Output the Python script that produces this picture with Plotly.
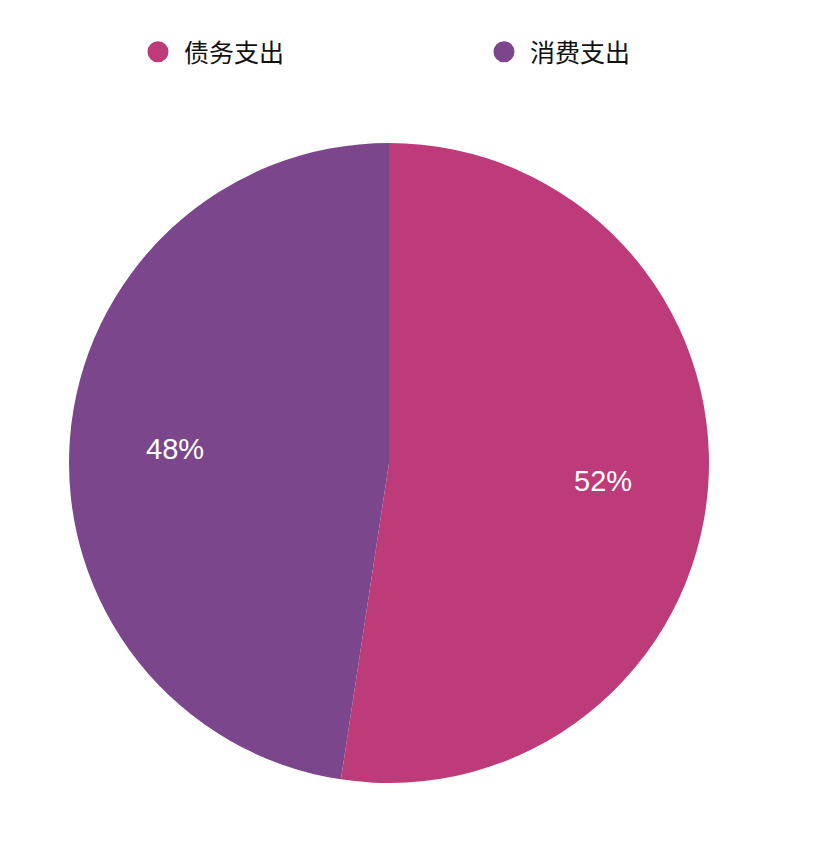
import numpy as np
import plotly.graph_objects as go

labels = ["债务支出", "消费支出"]
values = [52.4, 47.6]
colors = ["#BC3B78", "#7B468B"]

# pie geometry in pixels (figure coordinates)
cx, cy, r = 381, 455, 320
W, H = 820, 846

fig = go.Figure()

fig.add_trace(go.Pie(
    labels=labels,
    values=values,
    sort=False,
    direction="clockwise",
    rotation=0,
    marker=dict(colors=colors),
    textinfo="none",
    showlegend=False,
    hoverinfo="label+percent",
    domain=dict(x=[(cx - r) / W, (cx + r) / W], y=[1 - (cy + r) / H, 1 - (cy - r) / H]),
))

# percent labels at 2/3 of the radius, on the mid-angle of each slice
frac = np.array(values) / sum(values)
mid = np.cumsum(frac) - frac / 2
for f, m in zip(frac, mid):
    ang = 2 * np.pi * m
    lx = cx + 0.67 * r * np.sin(ang)
    ly = cy - 0.67 * r * np.cos(ang) + 2
    fig.add_annotation(
        x=lx / W, y=1 - ly / H, xref="paper", yref="paper",
        xanchor="center", yanchor="middle",
        text=f"{f:.0%}", showarrow=False,
        font=dict(family="Liberation Sans, Arial", size=29, color="white"),
    )

# legend with round markers
for name, c in zip(labels, colors):
    fig.add_trace(go.Scatter(
        x=[None], y=[None], mode="markers", name=name,
        marker=dict(symbol="circle", size=24, color=c, line=dict(width=8, color=c)),
    ))

fig.update_layout(
    width=W,
    height=H,
    margin=dict(l=0, r=0, t=0, b=0, autoexpand=False),
    paper_bgcolor="white",
    plot_bgcolor="white",
    xaxis=dict(visible=False),
    yaxis=dict(visible=False),
    legend=dict(
        orientation="h",
        x=124 / W,
        y=1 - 21 / H,
        xanchor="left",
        yanchor="top",
        entrywidth=289,
        entrywidthmode="pixels",
        itemwidth=42,
        font=dict(family="Noto Sans CJK SC", size=25, color="#111111"),
        itemsizing="trace",
    ),
)

fig.write_html("out.html")
